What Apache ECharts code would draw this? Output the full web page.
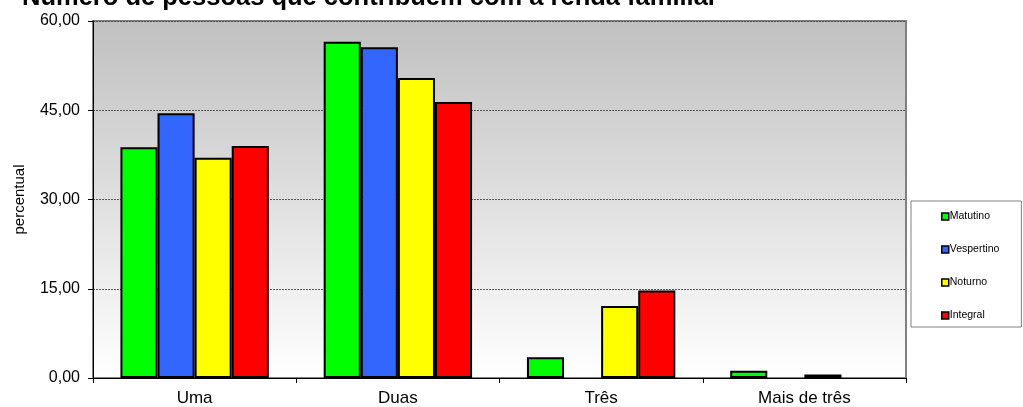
<!DOCTYPE html>
<html>
<head>
<meta charset="utf-8">
<script src="https://cdn.jsdelivr.net/npm/echarts@6/dist/echarts.min.js"></script>
<style>
  html, body { margin: 0; padding: 0; background: #fff; }
  #chart { width: 1023px; height: 407px; }
</style>
</head>
<body>
<div id="chart"></div>
<script>
// categorias e valores (null = sem barra)
var categorias = ['Uma', 'Duas', 'Três', 'Mais de três']
var matutino = [38.8, 56.5, 3.5, 1.2]
var vespertino = [44.5, 55.6, null, null]
var noturno = [37.0, 50.4, 12.1, 0.6]
var integral = [39.0, 46.4, 14.7, null]
var nomes = ['Matutino', 'Vespertino', 'Noturno', 'Integral']
var cores = ['#00ff00', '#3366ff', '#ffff00', '#ff0000']

var chart = echarts.init(document.getElementById('chart'))

function virgula(v) {
  return v.toFixed(2).replace('.', ',')
}

var dados = [matutino, vespertino, noturno, integral]
var series = []
for (var i = 0; i < dados.length; i++) {
  series.push({
    name: nomes[i],
    type: 'bar',
    data: dados[i],
    barGap: '0%',
    barCategoryGap: '27%',
    itemStyle: { color: cores[i], borderColor: '#000', borderWidth: 2 }
  })
}

var option = {
  backgroundColor: '#fff',
  animation: false,
  color: cores,
  title: {
    text: 'Número de pessoas que contribuem com a renda familiar',
    left: 17,
    top: -20,
    textStyle: { fontFamily: 'Liberation Sans', fontWeight: 'bold', fontSize: 25.5, color: '#000' }
  },
  legend: {
    orient: 'vertical',
    left: 911,
    top: 201,
    padding: [10, 22, 6, 30],
    itemGap: 22,
    itemWidth: 7,
    itemHeight: 7,
    icon: 'rect',
    borderColor: '#808080',
    borderWidth: 1,
    itemStyle: { borderColor: '#000', borderWidth: 1.5 },
    textStyle: { fontFamily: 'Liberation Sans', fontSize: 10.5, color: '#000', padding: [0, 0, 0, -4] },
    data: nomes
  },
  grid: {
    left: 93,
    right: 117,
    top: 21,
    bottom: 29,
    show: true,
    borderColor: '#808080',
    borderWidth: 2,
    backgroundColor: new echarts.graphic.LinearGradient(0, 0, 0, 1, [
      { offset: 0, color: '#c0c0c0' },
      { offset: 1, color: '#ffffff' }
    ])
  },
  xAxis: {
    type: 'category',
    data: categorias,
    axisLine: { lineStyle: { color: '#000', width: 1 } },
    axisTick: { show: true, length: 5, lineStyle: { color: '#000' } },
    axisLabel: { fontFamily: 'Liberation Sans', fontSize: 17, color: '#000', margin: 12 }
  },
  yAxis: {
    type: 'value',
    min: 0,
    max: 60,
    interval: 15,
    name: 'percentual',
    nameLocation: 'middle',
    nameGap: 66,
    nameTextStyle: { fontFamily: 'Liberation Sans', fontSize: 15, color: '#000' },
    axisLine: { show: true, lineStyle: { color: '#000', width: 1 } },
    axisTick: { show: true, length: 5, lineStyle: { color: '#000' } },
    axisLabel: {
      fontFamily: 'Liberation Sans', fontSize: 16, color: '#000', margin: 13,
      formatter: virgula
    },
    splitLine: { show: true, lineStyle: { color: '#555', type: [2, 1], width: 1 } }
  },
  series: series
}

chart.setOption(option)
</script>
</body>
</html>
